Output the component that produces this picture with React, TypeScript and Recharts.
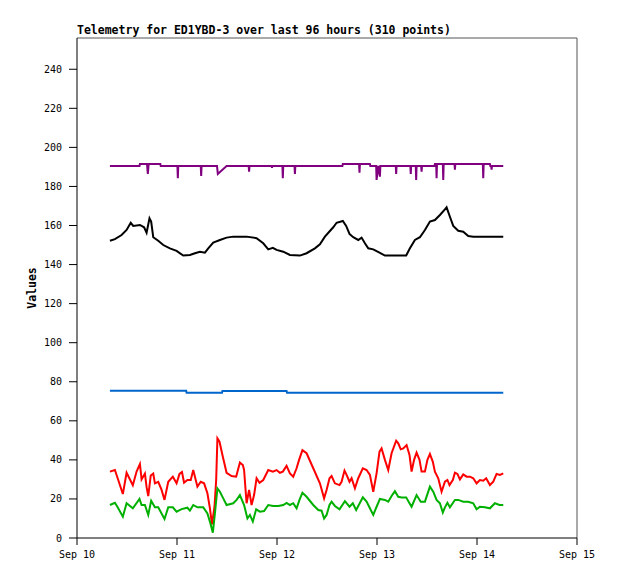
import { LineChart, Line, XAxis, YAxis, ReferenceLine } from 'recharts';

// hours since Sep 10 00:00
const dayTicks = [0, 24, 48, 72, 96, 120];
const dayLabels = ['Sep 10', 'Sep 11', 'Sep 12', 'Sep 13', 'Sep 14', 'Sep 15'];
const valueTicks = [0, 20, 40, 60, 80, 100, 120, 140, 160, 180, 200, 220, 240];

const purpleHours = [7.9, 15.0, 15.1, 16.8, 17.0, 17.2, 20.0, 20.1, 24.1, 24.2, 24.3, 29.7, 29.8, 29.9, 33.6, 33.8, 35.9,
  41.2, 41.3, 41.4, 46.7, 46.8, 46.9, 49.3, 49.4, 49.5, 52.2, 52.3, 52.4, 63.7, 63.8, 67.7, 67.8, 67.9, 70.3, 70.4,
  71.8, 71.9, 72.3, 72.7, 72.8, 76.5, 76.6, 76.7, 80.0, 80.1, 80.2, 81.3, 81.4, 81.5, 82.6, 82.7, 82.8, 85.8, 85.9,
  86.2, 86.3, 86.4, 87.8, 87.9, 88.0, 90.6, 90.7, 90.8, 97.4, 97.5, 97.6, 99.1, 99.2, 99.4, 99.5, 99.6, 102.3];
const purpleValues = [190.5, 190.5, 191.5, 191.5, 186.4, 191.5, 191.5, 190.5, 190.5, 184.2, 190.5, 190.5, 185.4, 190.5, 190.5, 186.4, 190.5,
  190.5, 187.6, 190.5, 190.5, 189.5, 190.5, 190.5, 184.2, 190.5, 190.5, 186.4, 190.5, 190.5, 191.5, 191.5, 187, 191.5, 191.5, 190.5,
  190.5, 183.3, 190.5, 185, 190.5, 190.5, 186.4, 190.5, 190.5, 186.4, 190.5, 190.5, 183.3, 190.5, 190.5, 187.6, 190.5, 190.5, 191.5,
  191.5, 184.2, 191.5, 191.5, 183.3, 191.5, 191.5, 188.6, 191.5, 191.5, 184.2, 191.5, 191.5, 190.5, 190.5, 188.6, 190.5, 190.5];

const blackHours = [7.9, 9.1, 10.7, 11.9, 12.9, 13.5, 15.1, 16.1, 16.7, 17.4, 17.8, 18.3, 19.5, 20.7, 22.3, 23.9, 25.5, 27.1,
  28.3, 29.5, 30.7, 31.5, 32.7, 34.3, 35.9, 37.5, 40.7, 43.1, 44.7, 45.9, 47.0, 47.9, 49.5, 51.1, 53.5, 55.1, 57.1, 58.3,
  59.5, 60.7, 61.5, 62.3, 63.8, 64.6, 65.4, 66.3, 67.5, 68.3, 69.1, 69.9, 71.1, 72.6, 73.9, 79.0, 79.9, 81.1, 82.3, 83.5,
  84.7, 85.9, 87.1, 88.3, 88.7, 89.5, 90.3, 91.5, 92.7, 93.9, 95.1, 102.3];
const blackValues = [152.2, 153, 155.1, 157.7, 161.4, 159.8, 160.3, 159.1, 156.3, 163.7, 162, 154, 152.2, 150, 148.3, 147, 144.6, 144.9,
  145.8, 146.6, 146.1, 148.3, 151.2, 152.6, 153.8, 154.3, 154.3, 153.5, 150.9, 147.8, 148.6, 147.5, 146.6, 144.9, 144.6, 145.8, 148.3, 150.4,
  154.3, 157.2, 159.1, 161.4, 162.3, 159.8, 155.7, 154, 152.6, 153.8, 150.9, 148.3, 147.8, 146.1, 144.6, 144.6, 148.3, 152.6, 154, 157.7,
  162, 162.8, 165.4, 168.3, 169.3, 164.5, 159.8, 157.3, 156.8, 154.6, 154.3, 154.3];

const blueHours = [7.9, 26.2, 26.3, 34.8, 34.9, 50.3, 50.4, 102.3];
const blueValues = [75.4, 75.4, 74.4, 74.4, 75.3, 75.3, 74.4, 74.4];

const redHours = [7.9, 9.1, 9.9, 11.0, 11.9, 13.4, 14.3, 15.1, 15.5, 16.3, 16.7, 17.1, 17.7, 18.3, 18.7, 19.5, 20.3, 21.0,
  21.9, 23.0, 23.9, 24.6, 25.2, 25.7, 26.5, 27.3, 27.9, 28.9, 29.7, 30.5, 31.3, 31.9, 32.4, 33.0, 33.4, 33.7, 34.2, 35.0,
  35.9, 37.1, 38.2, 39.1, 39.8, 40.1, 40.7, 41.3, 41.9, 42.5, 43.1, 43.8, 44.7, 45.9, 47.0, 47.9, 48.7, 49.4, 50.3, 51.1,
  51.9, 52.7, 53.3, 54.1, 55.1, 56.7, 58.3, 59.3, 59.9, 60.6, 61.1, 61.9, 63.0, 63.5, 64.2, 64.7, 65.4, 65.9, 66.7, 67.5,
  68.6, 69.5, 70.3, 71.1, 71.9, 72.6, 73.1, 73.9, 74.7, 75.5, 76.6, 77.1, 77.7, 78.3, 79.1, 79.8, 80.3, 80.9, 81.5, 82.2,
  82.7, 83.5, 84.1, 84.7, 85.4, 85.9, 86.7, 87.5, 88.3, 88.9, 89.4, 90.2, 90.7, 91.3, 91.9, 92.7, 93.5, 94.3, 95.1, 95.9,
  96.7, 97.5, 98.2, 99.1, 99.9, 100.7, 101.5, 102.3];
const redValues = [34, 34.8, 29.7, 22.5, 33.4, 27, 34, 37.9, 30, 33, 26, 21.5, 32, 33, 28, 28.8, 24.6, 19.5,
  28.8, 31.4, 28, 32.8, 33.8, 28.3, 29.7, 29.7, 34.8, 26.3, 28.8, 28, 22.9, 15.2, 7, 16, 29.7, 51, 49.3, 41.6,
  33.4, 31.7, 31.4, 38.6, 37.4, 34.8, 17.8, 24.6, 16.9, 22, 30.6, 28.3, 29.7, 34.8, 34, 34.8, 33.4, 34, 36.9, 33.1,
  31.4, 35.7, 40, 45, 43.4, 35.7, 28, 20.3, 24.6, 30.6, 31.7, 28, 27.1, 28.8, 34.5, 32.3, 28.8, 30.6, 25.4, 30.6,
  35.7, 34.8, 32.3, 23.7, 33.1, 44.2, 45.9, 40, 34.8, 43.4, 49.8, 48.5, 45.4, 45.9, 47.6, 42.5, 34, 40, 43.7, 40,
  34, 34, 40, 43, 39, 34, 30.6, 23.7, 28.8, 29.7, 27.1, 29.7, 33.4, 32.8, 30, 32.6, 31.4, 31.4, 30.6, 28,
  29.7, 29.3, 30.6, 27.1, 28.8, 32.8, 32.3, 33.1];

const greenHours = [7.9, 9.1, 9.9, 11.0, 11.9, 13.4, 15.0, 15.5, 16.3, 17.1, 17.8, 18.7, 19.5, 21.0, 21.9, 23.0, 23.9, 25.1,
  26.5, 27.1, 27.9, 28.9, 30.3, 31.3, 31.9, 32.6, 33.1, 33.7, 34.3, 35.1, 35.9, 37.5, 38.3, 39.1, 40.1, 40.9, 41.5, 42.2,
  43.0, 43.9, 44.9, 45.9, 47.1, 48.3, 49.5, 50.3, 51.1, 51.9, 52.7, 53.4, 54.1, 55.1, 56.7, 57.9, 58.7, 59.3, 59.9, 60.6,
  61.1, 61.9, 63.0, 64.3, 65.4, 66.2, 67.0, 68.6, 69.5, 70.3, 71.1, 71.9, 72.7, 73.9, 74.7, 75.5, 76.3, 77.1, 77.9, 79.0,
  79.8, 80.3, 81.5, 82.5, 83.5, 84.7, 85.5, 86.3, 87.1, 87.8, 88.3, 88.9, 89.5, 90.7, 91.5, 92.7, 93.9, 95.1, 95.9, 96.7,
  97.9, 99.1, 100.3, 101.4, 102.3];
const greenValues = [16.9, 18, 15.2, 10.9, 17.8, 15.2, 20, 16.9, 16.9, 11.8, 19.1, 15.7, 15.7, 9.7, 15.7, 15.7, 13.5, 14.8,
  15.5, 14, 16.9, 15.7, 15.7, 12.6, 8.4, 2.7, 12.6, 25.4, 23.7, 20.3, 16.9, 17.8, 19.5, 22, 16.9, 10, 11.8, 8.4,
  14.7, 13.5, 13.8, 16.9, 16.4, 16.4, 16.9, 18, 16.9, 17.8, 15.2, 19.5, 23.2, 21.1, 16.9, 14.3, 14, 10, 11.8, 16.9,
  18.6, 16.4, 14.7, 18.9, 16, 17.8, 14.3, 20.8, 18.6, 15.2, 11.8, 16, 20, 19.5, 18.6, 21.5, 24, 21.1, 20.8, 20.8,
  17.8, 16, 22, 18.6, 18.6, 26.3, 23.7, 19.5, 17.8, 13, 15.7, 18, 15.7, 19.5, 19.5, 18.6, 18.6, 17.8, 14.7, 16,
  15.7, 15.2, 17.8, 16.9, 16.9];

const toRows = (hours: number[], values: number[]) => hours.map((h, i) => ({ h, v: values[i] }));

const series = [
  { key: 'purple', color: '#800080', rows: toRows(purpleHours, purpleValues) },
  { key: 'black', color: '#000000', rows: toRows(blackHours, blackValues) },
  { key: 'blue', color: '#0066cc', rows: toRows(blueHours, blueValues) },
  { key: 'red', color: '#ff0000', rows: toRows(redHours, redValues) },
  { key: 'green', color: '#00b000', rows: toRows(greenHours, greenValues) },
];

const tickFont = { fontFamily: '"DejaVu Sans Mono", monospace', fontSize: 10, fill: '#000' };

export default function App() {
  return (
    <div style={{ position: 'absolute', left: 0, top: 0, width: 618, height: 579, background: '#fff' }}>
      <LineChart width={618} height={579} margin={{ top: 38, right: 41, bottom: 11, left: 17 }}>
        <XAxis
          type="number"
          dataKey="h"
          domain={[0, 120]}
          ticks={dayTicks}
          tickFormatter={(t: number) => dayLabels[dayTicks.indexOf(t)]}
          tick={tickFont}
          tickSize={7}
          tickMargin={6}
          height={30}
          stroke="#000"
          allowDuplicatedCategory={false}
        />
        <YAxis
          type="number"
          domain={[0, 256]}
          ticks={valueTicks}
          tick={tickFont}
          tickSize={8}
          tickMargin={7}
          width={60}
          stroke="#000"
        />
        <ReferenceLine y={256} stroke="#555" />
        <ReferenceLine x={120} stroke="#555" />
        {series.map((s) => (
          <Line
            key={s.key}
            data={s.rows}
            dataKey="v"
            type="linear"
            stroke={s.color}
            strokeWidth={2}
            dot={false}
            isAnimationActive={false}
          />
        ))}
      </LineChart>
      <svg width={618} height={579} style={{ position: 'absolute', left: 0, top: 0, pointerEvents: 'none' }}>
        <text x={77} y={34} fontFamily='"DejaVu Sans Mono", monospace' fontWeight="bold" fontSize={11.5} fill="#000">
          Telemetry for ED1YBD-3 over last 96 hours (310 points)
        </text>
        <text
          x={0}
          y={0}
          transform="translate(36 288) rotate(-90)"
          textAnchor="middle"
          fontFamily='"DejaVu Sans Mono", monospace'
          fontWeight="bold"
          fontSize={11.5}
          fill="#000"
        >
          Values
        </text>
      </svg>
    </div>
  );
}
